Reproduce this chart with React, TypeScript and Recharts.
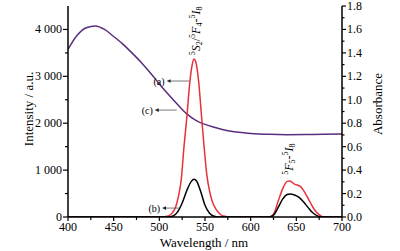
import React from 'react';
import { LineChart, Line, XAxis, YAxis, ReferenceLine, ReferenceDot } from 'recharts';

// Absorbance curve (c)
const absWavelength = [400, 410, 420, 430, 440, 450, 460, 470, 480, 490, 500, 510, 520, 530, 540, 550, 560, 570, 580, 590, 600, 620, 640, 660, 680, 700];
const absorbance = [1.43, 1.55, 1.615, 1.63, 1.6, 1.54, 1.475, 1.4, 1.32, 1.23, 1.135, 1.045, 0.96, 0.88, 0.825, 0.79, 0.765, 0.745, 0.73, 0.72, 0.713, 0.705, 0.702, 0.703, 0.705, 0.708];

// Emission curve (a)
const emAWavelength = [400, 500, 505, 510, 515, 518, 521, 524, 527, 530, 533, 536, 538, 540, 543, 546, 549, 552, 555, 558, 562, 566, 570, 575, 580, 620, 625, 630, 635, 640, 643, 648, 654, 660, 665, 670, 675, 680, 700];
const emAIntensity = [0, 0, 5, 20, 110, 220, 450, 800, 1500, 2100, 2800, 3250, 3370, 3300, 2900, 2200, 1500, 900, 550, 330, 170, 70, 20, 5, 0, 0, 60, 330, 600, 760, 770, 700, 660, 500, 320, 150, 50, 0, 0];

// Emission curve (b)
const emBWavelength = [400, 510, 515, 520, 525, 530, 535, 538, 541, 545, 550, 555, 560, 565, 620, 625, 630, 635, 640, 643, 648, 653, 658, 663, 668, 673, 678, 700];
const emBIntensity = [0, 0, 20, 110, 300, 560, 760, 805, 760, 560, 250, 80, 15, 0, 0, 40, 200, 380, 480, 490, 470, 420, 320, 200, 90, 25, 0, 0];

const xTicks = [400, 425, 450, 475, 500, 525, 550, 575, 600, 625, 650, 675, 700];
const xMajor = [400, 450, 500, 550, 600, 650, 700];
const leftTicks = [0, 500, 1000, 1500, 2000, 2500, 3000, 3500, 4000];
const leftMajor = [0, 1000, 2000, 3000, 4000];
const leftLabels = ['0', '1 000', '2 000', '3 000', '4 000'];
const rightTicks = [0, 0.1, 0.2, 0.3, 0.4, 0.5, 0.6, 0.7, 0.8, 0.9, 1.0, 1.1, 1.2, 1.3, 1.4, 1.5, 1.6, 1.7, 1.8];
const rightMajor = [0, 0.2, 0.4, 0.6, 0.8, 1.0, 1.2, 1.4, 1.6, 1.8];

const absData = absWavelength.map((x, i) => ({ x, y: absorbance[i] }));
const emAData = emAWavelength.map((x, i) => ({ x, y: emAIntensity[i] }));
const emBData = emBWavelength.map((x, i) => ({ x, y: emBIntensity[i] }));

const FONT = '"Liberation Serif", "DejaVu Serif", serif';
const RED = '#e8303a';
const PURPLE = '#5b2d7e';

const LeftTick = (props: any) => {
  const { x, y, payload } = props;
  const idx = leftMajor.indexOf(payload.value);
  const major = idx >= 0;
  return (
    <g>
      <line x1={x - (major ? 5 : 3)} x2={x} y1={y} y2={y} stroke="#000" strokeWidth={1.2} />
      {major && (
        <text x={x - 6} y={y} textAnchor="end" dominantBaseline="central" fontFamily={FONT} fontSize={12} fill="#000">
          {leftLabels[idx]}
        </text>
      )}
    </g>
  );
};

const RightTick = (props: any) => {
  const { x, y, payload } = props;
  const major = rightMajor.some((v) => Math.abs(v - payload.value) < 1e-6);
  return (
    <g>
      <line x1={x} x2={x + (major ? 4 : 2.5)} y1={y} y2={y} stroke="#000" strokeWidth={1.2} />
      {major && (
        <text x={x + 5} y={y} textAnchor="start" dominantBaseline="central" fontFamily={FONT} fontSize={12} fill="#000">
          {payload.value.toFixed(1)}
        </text>
      )}
    </g>
  );
};

const BottomTick = (props: any) => {
  const { x, y, payload } = props;
  const major = xMajor.includes(payload.value);
  return (
    <g>
      <line x1={x} x2={x} y1={y} y2={y + (major ? 4 : 3)} stroke="#000" strokeWidth={1.2} />
      {major && (
        <text x={x} y={y + 5} textAnchor="middle" dominantBaseline="hanging" fontFamily={FONT} fontSize={12} fill="#000">
          {payload.value}
        </text>
      )}
    </g>
  );
};

const makeArrow = (label: string) => (p: any) => {
  const { x1, y1, x2, y2 } = p;
  return (
    <g>
      <line x1={x1} y1={y1} x2={x2 + 3} y2={y2} stroke="#555" strokeWidth={0.8} />
      <polygon points={`${x2},${y2} ${x2 + 4},${y2 - 1.8} ${x2 + 4},${y2 + 1.8}`} fill="#222" />
      <text x={x2 - 2} y={y2} textAnchor="end" dominantBaseline="central" fontFamily={FONT} fontSize={10} fill="#000">
        {label}
      </text>
    </g>
  );
};

const Label1 = (p: any) => {
  const { cx, cy } = p;
  return (
    <text transform={`translate(${cx},${cy}) rotate(-90)`} x={0} y={0} textAnchor="start" dominantBaseline="central" fontFamily={FONT} fontSize={12} fill="#000">
      <tspan fontSize={8} dy={-4}>5</tspan>
      <tspan fontStyle="italic" dy={4}>S</tspan>
      <tspan fontSize={8} dy={3}>2</tspan>
      <tspan dy={-3}>/</tspan>
      <tspan fontSize={8} dy={-4}>5</tspan>
      <tspan fontStyle="italic" dy={4}>F</tspan>
      <tspan fontSize={8} dy={3}>4</tspan>
      <tspan dy={-3}>-</tspan>
      <tspan fontSize={8} dy={-4}>5</tspan>
      <tspan fontStyle="italic" dy={4}>I</tspan>
      <tspan fontSize={8} dy={3}>8</tspan>
    </text>
  );
};

const Label2 = (p: any) => {
  const { cx, cy } = p;
  return (
    <text transform={`translate(${cx},${cy}) rotate(-90)`} x={0} y={0} textAnchor="start" dominantBaseline="central" fontFamily={FONT} fontSize={12} fill="#000">
      <tspan fontSize={8} dy={-4}>5</tspan>
      <tspan fontStyle="italic" dy={4}>F</tspan>
      <tspan fontSize={8} dy={3}>5</tspan>
      <tspan dy={-3}>-</tspan>
      <tspan fontSize={8} dy={-4}>5</tspan>
      <tspan fontStyle="italic" dy={4}>I</tspan>
      <tspan fontSize={8} dy={3}>8</tspan>
    </text>
  );
};

export default function App() {
  return (
    <div style={{ position: 'absolute', left: 0, top: 0, width: 400, height: 251, background: '#fff' }}>
      <LineChart width={400} height={251} margin={{ top: 6, right: 0, bottom: 0, left: 0 }}>
        <XAxis
          xAxisId="bottom"
          type="number"
          dataKey="x"
          domain={[400, 700]}
          ticks={xTicks}
          interval={0}
          height={34}
          tickSize={0}
          tickMargin={0}
          tickLine={false}
          tick={<BottomTick />}
          axisLine={{ stroke: '#000', strokeWidth: 1.5 }}
          allowDataOverflow
        />
        <XAxis xAxisId="top" orientation="top" type="number" domain={[400, 700]} height={0} tick={false} tickLine={false} axisLine={{ stroke: '#000', strokeWidth: 1.5 }} />
        <YAxis
          yAxisId="left"
          type="number"
          domain={[0, 4500]}
          ticks={leftTicks}
          interval={0}
          width={68}
          tickSize={0}
          tickMargin={0}
          tickLine={false}
          tick={<LeftTick />}
          axisLine={{ stroke: '#000', strokeWidth: 1.5 }}
          allowDataOverflow
        />
        <YAxis
          yAxisId="right"
          orientation="right"
          type="number"
          domain={[0, 1.8]}
          ticks={rightTicks}
          interval={0}
          width={58}
          tickSize={0}
          tickMargin={0}
          tickLine={false}
          tick={<RightTick />}
          axisLine={{ stroke: '#000', strokeWidth: 1.5 }}
          allowDataOverflow
        />
        <Line xAxisId="bottom" yAxisId="right" data={absData} dataKey="y" type="monotone" stroke={PURPLE} strokeWidth={1.5} dot={false} isAnimationActive={false} />
        <Line xAxisId="bottom" yAxisId="left" data={emAData} dataKey="y" type="monotone" stroke={RED} strokeWidth={1.5} dot={false} isAnimationActive={false} />
        <Line xAxisId="bottom" yAxisId="left" data={emBData} dataKey="y" type="monotone" stroke="#000" strokeWidth={1.5} dot={false} isAnimationActive={false} />
        <ReferenceLine xAxisId="bottom" yAxisId="left" segment={[{ x: 533, y: 2900 }, { x: 508, y: 2900 }]} shape={makeArrow('(a)')} />
        <ReferenceLine xAxisId="bottom" yAxisId="left" segment={[{ x: 519, y: 2280 }, { x: 495, y: 2280 }]} shape={makeArrow('(c)')} />
        <ReferenceLine xAxisId="bottom" yAxisId="left" segment={[{ x: 522, y: 190 }, { x: 503, y: 190 }]} shape={makeArrow('(b)')} />
        <ReferenceDot xAxisId="bottom" yAxisId="left" x={540} y={3450} shape={Label1} />
        <ReferenceDot xAxisId="bottom" yAxisId="left" x={642} y={900} shape={Label2} />
      </LineChart>
      <div style={{ position: 'absolute', left: 0, top: 0, width: 400, height: 251, pointerEvents: 'none', fontFamily: FONT, fontSize: 13, lineHeight: 1, color: '#000' }}>
        <div style={{ position: 'absolute', left: 28, top: 109, transform: 'translate(-50%, -50%) rotate(-90deg)', whiteSpace: 'nowrap' }}>Intensity / a.u.</div>
        <div style={{ position: 'absolute', left: 377, top: 104, transform: 'translate(-50%, -50%) rotate(-90deg)', whiteSpace: 'nowrap' }}>Absorbance</div>
        <div style={{ position: 'absolute', left: 204, top: 242, transform: 'translate(-50%, -50%)', whiteSpace: 'nowrap' }}>Wavelength / nm</div>
      </div>
    </div>
  );
}
